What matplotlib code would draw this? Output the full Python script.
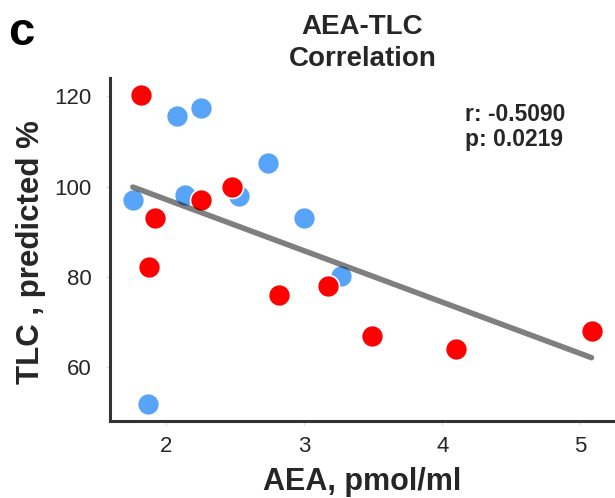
import numpy as np
import matplotlib
matplotlib.use("Agg")
import matplotlib.pyplot as plt

plt.rcParams["font.family"] = ["Liberation Sans", "DejaVu Sans"]

# ── data ──────────────────────────────────────────────────────────────────────
blue_aea = [1.76, 2.08, 2.25, 2.14, 2.53, 2.74, 3.00, 3.27, 1.87]
blue_tlc = [97.1, 115.6, 117.4, 98.2, 98.0, 105.3, 93.1, 80.1, 51.8]
red_aea  = [1.82, 1.92, 1.88, 2.25, 2.48, 2.82, 3.17, 3.49, 4.10, 5.08]
red_tlc  = [120.2, 93.1, 82.1, 97.1, 100.0, 75.9, 77.9, 66.9, 64.0, 68.0]
x_ticks  = [2, 3, 4, 5]
y_ticks  = [60, 80, 100, 120]
r_label  = "r: -0.5090"
p_label  = "p: 0.0219"

BLUE = "#58a4f8"
RED  = "#ff0000"
DARK = "#262626"

fig = plt.figure(figsize=(6.15, 4.98), dpi=100)
ax = fig.add_axes([0.179, 0.155, 0.821, 0.688])

ax.scatter(blue_aea, blue_tlc, s=250, color=BLUE, edgecolor="white", linewidth=1.2, zorder=2)
ax.scatter(red_aea, red_tlc, s=250, color=RED, edgecolor="white", linewidth=1.2, zorder=3)

# regression over all points
all_x = np.array(blue_aea + red_aea)
all_y = np.array(blue_tlc + red_tlc)
slope, icpt = np.polyfit(all_x, all_y, 1)
xs = np.array([all_x.min(), all_x.max()])
ax.plot(xs, slope * xs + icpt, color="black", alpha=0.5, linewidth=4,
        solid_capstyle="round", zorder=4)

ax.set_xlim(1.595, 5.25)
ax.set_ylim(48.1, 124)
ax.set_xticks(x_ticks)
ax.set_yticks(y_ticks)
ax.tick_params(axis="both", labelsize=16, colors="#dddddd", labelcolor=DARK,
               length=3, width=1)
ax.tick_params(axis="x", pad=8)
ax.tick_params(axis="y", pad=10.5)

for side in ("top", "right"):
    ax.spines[side].set_visible(False)
for side in ("left", "bottom"):
    ax.spines[side].set_color("#333333")
    ax.spines[side].set_linewidth(2.2)

ax.set_xlabel("AEA, pmol/ml", fontsize=22, fontweight="bold", color=DARK, va="baseline")
ax.xaxis.set_label_coords(0.5, -0.201)
ax.set_ylabel("TLC , predicted %", fontsize=22.5, fontweight="bold", color=DARK, va="center")
ax.yaxis.set_label_coords(-0.156, 0.493)
ax.set_title("AEA-TLC\nCorrelation", fontsize=20, fontweight="bold", color=DARK,
             linespacing=1.3, pad=9)

ax.text(0.703, 0.875, r_label, transform=ax.transAxes, fontsize=16.5, fontweight="bold",
        color=DARK, va="baseline", ha="left")
ax.text(0.703, 0.802, p_label, transform=ax.transAxes, fontsize=16.5, fontweight="bold",
        color=DARK, va="baseline", ha="left")

fig.text(0.014, 0.9096, "c", fontsize=34, fontweight="bold", color="black", va="baseline")

fig.savefig("out.png", dpi=100)
